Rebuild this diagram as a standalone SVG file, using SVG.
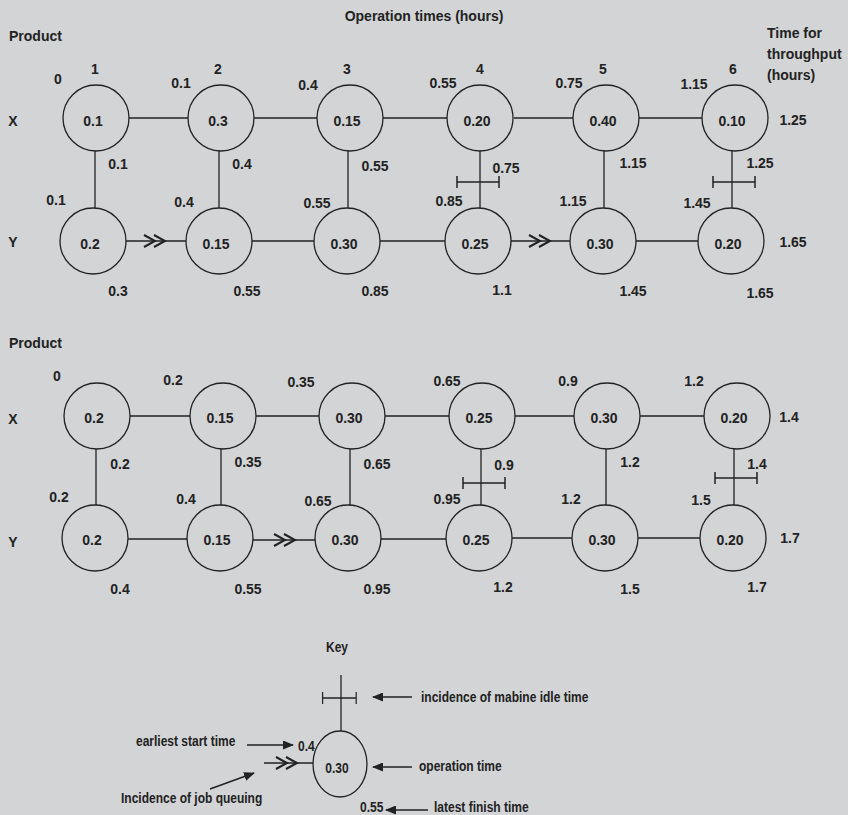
<svg xmlns="http://www.w3.org/2000/svg" width="848" height="815" viewBox="0 0 848 815">
<style>
text{font-family:"Liberation Sans",Arial,sans-serif;font-weight:bold;fill:#222}
.t{font-size:14px;text-anchor:middle}
.s{font-size:14px}
.k{font-size:12px}
.km{font-size:12px;text-anchor:middle}
.n circle,.n ellipse{fill:none;stroke:#222;stroke-width:1.3}
.c line{stroke:#222;stroke-width:1.3}
.q{fill:none;stroke:#222;stroke-width:2}
.i{fill:none;stroke:#222;stroke-width:1.5}
.a{stroke:#222;stroke-width:1.5;marker-end:url(#ah)}
</style>
<defs>
<path id="qq" class="q" d="M-11,-6 L0,0 L-11,6 M-1,-6 L10,0 L-1,6"/>
<path id="idle" class="i" d="M-23,0 H19 M-23,-6 V6 M19,-6 V6"/>
<marker id="ah" markerWidth="11" markerHeight="9" refX="10" refY="4.5" orient="auto" markerUnits="userSpaceOnUse"><path d="M0,0 L11,4.5 L0,9 z" fill="#222"/></marker>
</defs>
<rect width="848" height="815" fill="#d3d4d6"/>

<!-- Top headings -->
<text class="t" x="424" y="21">Operation times (hours)</text>
<text class="s" x="9" y="41">Product</text>
<text class="s" x="767" y="38">Time for</text>
<text class="s" x="767" y="59">throughput</text>
<text class="s" x="767" y="80">(hours)</text>

<!-- Connectors -->
<g id="connectors" class="c">
<line x1="129" y1="118" x2="188" y2="118"/>
<line x1="254" y1="118" x2="317" y2="118"/>
<line x1="383" y1="118" x2="447" y2="118"/>
<line x1="514" y1="118" x2="573" y2="118"/>
<line x1="639" y1="118" x2="702" y2="118"/>
<line x1="126" y1="241" x2="186" y2="241"/>
<line x1="252" y1="241" x2="314" y2="241"/>
<line x1="380" y1="241" x2="445" y2="241"/>
<line x1="511" y1="241" x2="570" y2="241"/>
<line x1="636" y1="241" x2="698" y2="241"/>
<line x1="95" y1="151" x2="95" y2="208"/>
<line x1="219" y1="151" x2="219" y2="208"/>
<line x1="348" y1="151" x2="348" y2="208"/>
<line x1="480" y1="151" x2="480" y2="208"/>
<line x1="604" y1="151" x2="604" y2="208"/>
<line x1="732" y1="151" x2="732" y2="208"/>

<line x1="130" y1="416" x2="190" y2="416"/>
<line x1="256" y1="416" x2="319" y2="416"/>
<line x1="385" y1="416" x2="449" y2="416"/>
<line x1="515" y1="416" x2="574" y2="416"/>
<line x1="640" y1="416" x2="704" y2="416"/>
<line x1="128" y1="539" x2="187" y2="539"/>
<line x1="253" y1="540" x2="315" y2="540"/>
<line x1="381" y1="539" x2="446" y2="539"/>
<line x1="512" y1="538" x2="572" y2="538"/>
<line x1="638" y1="538" x2="700" y2="538"/>
<line x1="96" y1="449" x2="96" y2="505"/>
<line x1="221" y1="449" x2="221" y2="505"/>
<line x1="350" y1="449" x2="350" y2="505"/>
<line x1="481" y1="449" x2="481" y2="505"/>
<line x1="606" y1="449" x2="606" y2="505"/>
<line x1="734" y1="449" x2="734" y2="505"/>
<use href="#qq" x="155" y="241"/>
<use href="#qq" x="540" y="241"/>
<use href="#qq" x="285" y="540"/>
<use href="#idle" x="480" y="182"/>
<use href="#idle" x="736" y="182"/>
<use href="#idle" x="486" y="483"/>
<use href="#idle" x="738" y="478"/>
</g>

<!-- Nodes -->
<g class="n">
<g id="t-x1"><circle cx="96" cy="118" r="33"/><text class="t" x="93" y="126">0.1</text></g>
<g id="t-x2"><circle cx="221" cy="118" r="33"/><text class="t" x="218" y="126">0.3</text></g>
<g id="t-x3"><circle cx="350" cy="118" r="33"/><text class="t" x="347" y="126">0.15</text></g>
<g id="t-x4"><circle cx="480" cy="118" r="33"/><text class="t" x="477" y="126">0.20</text></g>
<g id="t-x5"><circle cx="606" cy="118" r="33"/><text class="t" x="603" y="126">0.40</text></g>
<g id="t-x6"><circle cx="735" cy="118" r="33"/><text class="t" x="732" y="126">0.10</text></g>
<g id="t-y1"><circle cx="93" cy="241" r="33"/><text class="t" x="90" y="249">0.2</text></g>
<g id="t-y2"><circle cx="219" cy="241" r="33"/><text class="t" x="216" y="249">0.15</text></g>
<g id="t-y3"><circle cx="347" cy="241" r="33"/><text class="t" x="344" y="249">0.30</text></g>
<g id="t-y4"><circle cx="478" cy="241" r="33"/><text class="t" x="475" y="249">0.25</text></g>
<g id="t-y5"><circle cx="603" cy="241" r="33"/><text class="t" x="600" y="249">0.30</text></g>
<g id="t-y6"><circle cx="731" cy="241" r="33"/><text class="t" x="728" y="249">0.20</text></g>

<g id="b-x1"><circle cx="97" cy="416" r="33"/><text class="t" x="94" y="423">0.2</text></g>
<g id="b-x2"><circle cx="223" cy="416" r="33"/><text class="t" x="220" y="423">0.15</text></g>
<g id="b-x3"><circle cx="352" cy="416" r="33"/><text class="t" x="349" y="423">0.30</text></g>
<g id="b-x4"><circle cx="482" cy="416" r="33"/><text class="t" x="479" y="423">0.25</text></g>
<g id="b-x5"><circle cx="607" cy="416" r="33"/><text class="t" x="604" y="423">0.30</text></g>
<g id="b-x6"><circle cx="737" cy="416" r="33"/><text class="t" x="734" y="423">0.20</text></g>
<g id="b-y1"><circle cx="95" cy="538" r="33"/><text class="t" x="92" y="545">0.2</text></g>
<g id="b-y2"><circle cx="220" cy="538" r="33"/><text class="t" x="217" y="545">0.15</text></g>
<g id="b-y3"><circle cx="348" cy="538" r="33"/><text class="t" x="345" y="545">0.30</text></g>
<g id="b-y4"><circle cx="479" cy="538" r="33"/><text class="t" x="476" y="545">0.25</text></g>
<g id="b-y5"><circle cx="605" cy="538" r="33"/><text class="t" x="602" y="545">0.30</text></g>
<g id="b-y6"><circle cx="733" cy="538" r="33"/><text class="t" x="730" y="545">0.20</text></g>
</g>

<!-- Top section labels -->
<g id="top-labels">
<text class="t" x="95" y="74">1</text>
<text class="t" x="218" y="74">2</text>
<text class="t" x="347" y="74">3</text>
<text class="t" x="480" y="74">4</text>
<text class="t" x="603" y="74">5</text>
<text class="t" x="733" y="74">6</text>
<text class="t" x="58" y="84">0</text>
<text class="t" x="181" y="88">0.1</text>
<text class="t" x="308" y="90">0.4</text>
<text class="t" x="443" y="88">0.55</text>
<text class="t" x="569" y="88">0.75</text>
<text class="t" x="694" y="89">1.15</text>
<text class="t" x="13" y="126">X</text>
<text class="t" x="793" y="125">1.25</text>
<text class="t" x="118" y="169">0.1</text>
<text class="t" x="242" y="169">0.4</text>
<text class="t" x="375" y="171">0.55</text>
<text class="t" x="506" y="173">0.75</text>
<text class="t" x="633" y="168">1.15</text>
<text class="t" x="760" y="168">1.25</text>
<text class="t" x="56" y="205">0.1</text>
<text class="t" x="184" y="207">0.4</text>
<text class="t" x="317" y="208">0.55</text>
<text class="t" x="449" y="206">0.85</text>
<text class="t" x="573" y="206">1.15</text>
<text class="t" x="697" y="208">1.45</text>
<text class="t" x="13" y="247">Y</text>
<text class="t" x="793" y="247">1.65</text>
<text class="t" x="118" y="296">0.3</text>
<text class="t" x="247" y="296">0.55</text>
<text class="t" x="375" y="296">0.85</text>
<text class="t" x="502" y="295">1.1</text>
<text class="t" x="633" y="296">1.45</text>
<text class="t" x="760" y="298">1.65</text>
</g>

<!-- Bottom section labels -->
<g id="bottom-labels">
<text class="s" x="9" y="348">Product</text>
<text class="t" x="57" y="381">0</text>
<text class="t" x="173" y="385">0.2</text>
<text class="t" x="301" y="387">0.35</text>
<text class="t" x="447" y="386">0.65</text>
<text class="t" x="568" y="386">0.9</text>
<text class="t" x="694" y="386">1.2</text>
<text class="t" x="13" y="424">X</text>
<text class="t" x="789" y="422">1.4</text>
<text class="t" x="120" y="469">0.2</text>
<text class="t" x="248" y="467">0.35</text>
<text class="t" x="377" y="469">0.65</text>
<text class="t" x="504" y="470">0.9</text>
<text class="t" x="630" y="467">1.2</text>
<text class="t" x="757" y="469">1.4</text>
<text class="t" x="59" y="502">0.2</text>
<text class="t" x="186" y="504">0.4</text>
<text class="t" x="318" y="506">0.65</text>
<text class="t" x="447" y="504">0.95</text>
<text class="t" x="571" y="504">1.2</text>
<text class="t" x="701" y="505">1.5</text>
<text class="t" x="13" y="547">Y</text>
<text class="t" x="790" y="543">1.7</text>
<text class="t" x="120" y="594">0.4</text>
<text class="t" x="248" y="594">0.55</text>
<text class="t" x="377" y="594">0.95</text>
<text class="t" x="503" y="592">1.2</text>
<text class="t" x="630" y="594">1.5</text>
<text class="t" x="757" y="592">1.7</text>
</g>

<!-- Key -->
<g id="key">
<g class="c">
<line x1="341" y1="675" x2="341" y2="731"/>
<line x1="264" y1="763" x2="313" y2="763"/>
</g>
<use href="#idle" x="341" y="698" transform="translate(341,698) scale(0.8,1) translate(-341,-698)"/>
<use href="#qq" x="287" y="763"/>
<g id="key-node" class="n"><ellipse cx="340" cy="764" rx="27" ry="33"/></g>
<line class="a" x1="412" y1="697" x2="373" y2="697"/>
<line class="a" x1="247" y1="745" x2="293" y2="745"/>
<line class="a" x1="210" y1="789" x2="254" y2="773"/>
<line class="a" x1="412" y1="767" x2="373" y2="767"/>
<line class="a" x1="428" y1="810" x2="386" y2="810"/>
<g transform="scale(1,1.2)">
<text class="km" x="337" y="543.3">Key</text>
<text class="km" x="337" y="644.2">0.30</text>
<text class="k" x="421" y="585">incidence of mabine idle time</text>
<text class="k" x="136" y="621.7">earliest start time</text>
<text class="k" x="298" y="625.8">0.4</text>
<text class="k" x="419" y="642.5">operation time</text>
<text class="k" x="121" y="669.2">Incidence of job queuing</text>
<text class="k" x="360" y="677">0.55</text>
<text class="k" x="434" y="677">latest finish time</text>
</g>
</g>
</svg>
